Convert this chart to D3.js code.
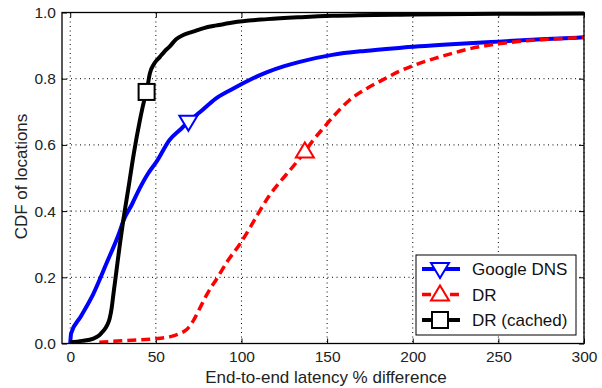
<!DOCTYPE html>
<html>
<head>
<meta charset="utf-8">
<script src="https://cdn.jsdelivr.net/npm/d3@7"></script>
<style>
  body { margin: 0; background: #fff; }
  svg { display: block; font-family: "Liberation Sans", Arial, sans-serif; }
</style>
</head>
<body>
<svg id="chart" width="602" height="388"></svg>
<script>
// CDF curves: [latency % difference, fraction]
var googleDns = [[0, 0], [0.5, 0.03], [6, 0.08], [13.5, 0.15], [21, 0.24], [29, 0.34], [31, 0.37],
    [36, 0.42], [40.7, 0.47], [45, 0.51], [50.5, 0.55], [58, 0.615], [64, 0.645], [69, 0.67],
    [76, 0.70], [85, 0.74], [95, 0.77], [105, 0.797], [115, 0.82], [125, 0.838], [134, 0.851],
    [153, 0.872], [172, 0.884], [192, 0.893], [220, 0.903], [250, 0.912], [275, 0.919], [300, 0.925]];

var dr = [[17, 0.004], [30, 0.008], [50.5, 0.015], [58, 0.02], [64, 0.03], [68, 0.042], [72, 0.07],
    [76, 0.11], [80, 0.15], [85.5, 0.195], [92, 0.25], [99, 0.30], [105, 0.35], [110.6, 0.40],
    [116, 0.445], [122, 0.485], [130, 0.534], [137, 0.58], [142, 0.615], [148, 0.652], [153.5, 0.685],
    [163, 0.735], [173, 0.77], [183, 0.798], [192, 0.822], [202, 0.843], [212, 0.86], [222, 0.875],
    [232, 0.889], [251, 0.906], [270, 0.916], [285, 0.921], [300, 0.925]];

var drCached = [[0, 0.004], [7, 0.008], [13.5, 0.015], [17, 0.025], [19, 0.036], [21.5, 0.055],
    [23, 0.075], [24.3, 0.11], [25, 0.14], [26, 0.18], [27, 0.22], [29, 0.30], [31, 0.373],
    [34, 0.47], [37, 0.57], [40.7, 0.675], [43, 0.73], [44.6, 0.76], [46.5, 0.816], [49, 0.845],
    [52.4, 0.866], [55, 0.882], [58, 0.897], [62, 0.92], [66, 0.932], [71.6, 0.942], [78, 0.953],
    [85.5, 0.961], [95, 0.97], [115, 0.98], [135, 0.986], [153, 0.99], [200, 0.994], [250, 0.996], [300, 0.997]];

var series = [
    {name: "Google DNS", color: "#0000ff", dash: null, marker: "triangle-down", at: [69, 0.67], values: googleDns},
    {name: "DR", color: "#ff0000", dash: "9,5", marker: "triangle-up", at: [137, 0.58], values: dr},
    {name: "DR (cached)", color: "#000000", dash: null, marker: "square", at: [44.6, 0.76], values: drCached}
];

var xTicks = [0, 50, 100, 150, 200, 250, 300],
    yTicks = [0, 0.2, 0.4, 0.6, 0.8, 1.0];

var margin = {top: 12.5, right: 18, bottom: 44.5, left: 62},
    width = 602 - margin.left - margin.right,
    height = 388 - margin.top - margin.bottom;

var svg = d3.select("#chart"),
    g = svg.append("g").attr("transform", "translate(" + margin.left + "," + margin.top + ")");

var x = d3.scaleLinear().domain([-4.8, 300]).range([0, width]),
    y = d3.scaleLinear().domain([0, 1]).range([height, 0]);

// dotted grid
g.append("g").selectAll("line.gx").data(xTicks).join("line")
    .attr("x1", function (d) { return x(d); }).attr("x2", function (d) { return x(d); })
    .attr("y1", 0).attr("y2", height)
    .attr("stroke", "#000").attr("stroke-width", 1).attr("stroke-dasharray", "1,3.5");
g.append("g").selectAll("line.gy").data(yTicks).join("line")
    .attr("x1", 0).attr("x2", width)
    .attr("y1", function (d) { return y(d); }).attr("y2", function (d) { return y(d); })
    .attr("stroke", "#000").attr("stroke-width", 1).attr("stroke-dasharray", "1,3.5");

// axes, ticks pointing inward on all four sides
var fmt = d3.format(".1f");
g.append("g").attr("transform", "translate(0," + height + ")")
    .call(d3.axisBottom(x).tickValues(xTicks).tickSizeInner(-5).tickSizeOuter(0).tickPadding(7));
g.append("g")
    .call(d3.axisLeft(y).tickValues(yTicks).tickFormat(fmt).tickSizeInner(-5).tickSizeOuter(0).tickPadding(6));
g.append("g").call(d3.axisTop(x).tickValues(xTicks).tickFormat("").tickSizeInner(-5).tickSizeOuter(0));
g.append("g").attr("transform", "translate(" + width + ",0)")
    .call(d3.axisRight(y).tickValues(yTicks).tickFormat("").tickSizeInner(-5).tickSizeOuter(0));
g.selectAll(".domain").remove();
g.selectAll(".tick line").attr("stroke", "#000");
g.selectAll(".tick text").attr("font-size", 15.5).attr("fill", "#222")
    .attr("font-family", "Liberation Sans, Arial, sans-serif");

// curves
var line = d3.line()
    .x(function (d) { return x(d[0]); })
    .y(function (d) { return y(d[1]); })
    .curve(d3.curveMonotoneX);

svg.append("defs").append("clipPath").attr("id", "clip")
    .append("rect").attr("x", 0).attr("y", -3).attr("width", width).attr("height", height + 3);

series.forEach(function (s) {
    g.append("path")
        .datum(s.values)
        .attr("clip-path", "url(#clip)")
        .attr("fill", "none")
        .attr("stroke", s.color)
        .attr("stroke-width", s.dash ? 3.5 : 4)
        .attr("stroke-dasharray", s.dash)
        .attr("stroke-linejoin", "round")
        .attr("d", line);
});

function drawMarker(sel, s, cx, cy) {
    var p;
    if (s.marker === "square") {
        p = sel.append("rect").attr("x", cx - 8).attr("y", cy - 8).attr("width", 16).attr("height", 16);
    } else if (s.marker === "triangle-down") {
        p = sel.append("path").attr("d", "M" + (cx - 9) + "," + (cy - 6) + "L" + (cx + 9) + "," + (cy - 6) +
            "L" + cx + "," + (cy + 9) + "Z");
    } else {
        p = sel.append("path").attr("d", "M" + (cx - 9) + "," + (cy + 6) + "L" + (cx + 9) + "," + (cy + 6) +
            "L" + cx + "," + (cy - 9) + "Z");
    }
    p.attr("fill", "#fff").attr("stroke", s.color).attr("stroke-width", 2);
}

series.forEach(function (s) {
    drawMarker(g, s, x(s.at[0]), y(s.at[1]));
});

// frame
g.append("rect").attr("width", width).attr("height", height)
    .attr("fill", "none").attr("stroke", "#000").attr("stroke-width", 1.3);

// axis labels
svg.append("text")
    .attr("x", margin.left + width / 2 + 3).attr("y", 383)
    .attr("text-anchor", "middle").attr("font-size", 17).attr("fill", "#222")
    .text("End-to-end latency % difference");
svg.append("text")
    .attr("transform", "translate(26.5," + 176.5 + ") rotate(-90)")
    .attr("text-anchor", "middle").attr("font-size", 17).attr("fill", "#222")
    .text("CDF of locations");

// legend
var legend = g.append("g").attr("transform", "translate(" + (416 - margin.left) + "," + (255 - margin.top) + ")");
legend.append("rect").attr("width", 160).attr("height", 80)
    .attr("fill", "#fff").attr("stroke", "#000").attr("stroke-width", 1);
series.forEach(function (s, i) {
    var ly = 14 + i * 25.5;
    legend.append("line")
        .attr("x1", 6).attr("x2", 44).attr("y1", ly).attr("y2", ly)
        .attr("stroke", s.color).attr("stroke-width", s.dash ? 3.5 : 4)
        .attr("stroke-dasharray", s.dash);
    drawMarker(legend, s, 24, ly);
    legend.append("text")
        .attr("x", 56).attr("y", ly + 6)
        .attr("font-size", 17).attr("fill", "#111")
        .text(s.name);
});
</script>
</body>
</html>
